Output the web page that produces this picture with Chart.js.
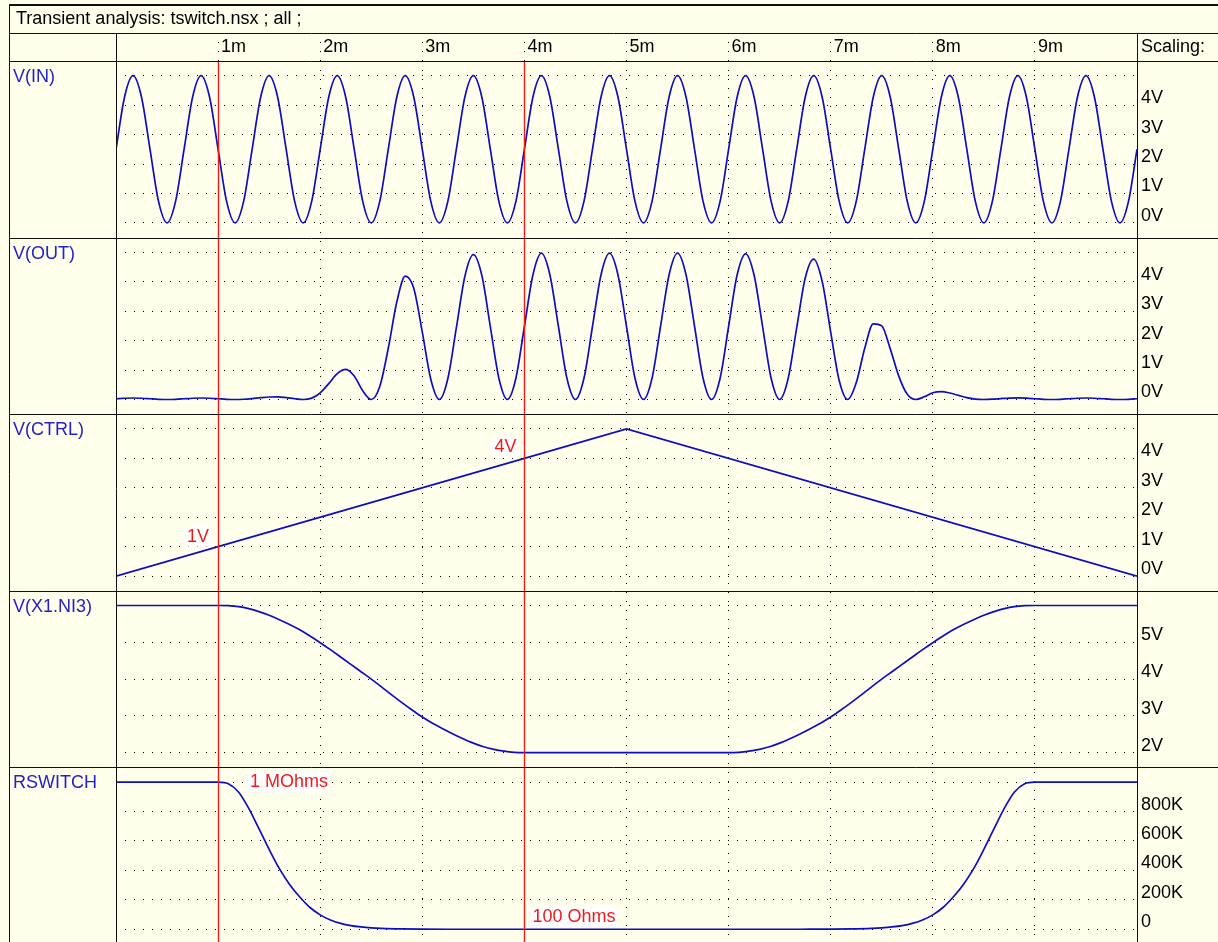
<!DOCTYPE html>
<html>
<head>
<meta charset="utf-8">
<script src="https://cdn.jsdelivr.net/npm/chart.js@4.4.1/dist/chart.umd.min.js"></script>
<style>
  html, body { margin: 0; padding: 0; background: #FFFFEC; overflow: hidden; width: 1218px; height: 942px; }
  #wrap { position: relative; width: 1218px; height: 944px; }
  #plot { position: absolute; left: 0; top: 0; }
  .txt { position: absolute; font-family: "Liberation Sans", Arial, sans-serif; font-size: 18px;
         line-height: 21px; white-space: nowrap; color: #000; }
  .pane { color: #2222CC; }
</style>
</head>
<body>
<div id="wrap">
  <canvas id="plot" width="1218" height="944"></canvas>
  <div class="txt" style="left:16px; top:8px;">Transient analysis: tswitch.nsx ; all ;</div>
  <div class="txt" style="left:1141px; top:36px;">Scaling:</div>
</div>
<script>
// ---- time axis (milliseconds) ----
const timeTickValues = [1, 2, 3, 4, 5, 6, 7, 8, 9];
const timeTickLabels = ['1m', '2m', '3m', '4m', '5m', '6m', '7m', '8m', '9m'];

// ---- sampled waveforms V(IN) and V(OUT) ----
const sampleTimes = [
  0, 0.0833, 0.1667, 0.25, 0.3333, 0.4167, 0.5, 0.5833, 0.6667, 0.75, 0.8333, 0.9167,
  1, 1.0833, 1.1667, 1.25, 1.3333, 1.4167, 1.5, 1.5833, 1.6667, 1.75, 1.8333, 1.9167,
  2, 2.0833, 2.1667, 2.25, 2.3333, 2.4167, 2.5, 2.5833, 2.6667, 2.75, 2.8333, 2.9167,
  3, 3.0833, 3.1667, 3.25, 3.3333, 3.4167, 3.5, 3.5833, 3.6667, 3.75, 3.8333, 3.9167,
  4, 4.0833, 4.1667, 4.25, 4.3333, 4.4167, 4.5, 4.5833, 4.6667, 4.75, 4.8333, 4.9167,
  5, 5.0833, 5.1667, 5.25, 5.3333, 5.4167, 5.5, 5.5833, 5.6667, 5.75, 5.8333, 5.9167,
  6, 6.0833, 6.1667, 6.25, 6.3333, 6.4167, 6.5, 6.5833, 6.6667, 6.75, 6.8333, 6.9167,
  7, 7.0833, 7.1667, 7.25, 7.3333, 7.4167, 7.5, 7.5833, 7.6667, 7.75, 7.8333, 7.9167,
  8, 8.0833, 8.1667, 8.25, 8.3333, 8.4167, 8.5, 8.5833, 8.6667, 8.75, 8.8333, 8.9167,
  9, 9.0833, 9.1667, 9.25, 9.3333, 9.4167, 9.5, 9.5833, 9.6667, 9.75, 9.8333, 9.9167,
  10
];

const vIn = [
  2.5, 4.27, 5, 4.27, 2.5, 0.73, 0, 0.73,
  2.5, 4.27, 5, 4.27, 2.5, 0.73, 0, 0.73,
  2.5, 4.27, 5, 4.27, 2.5, 0.73, 0, 0.73,
  2.5, 4.27, 5, 4.27, 2.5, 0.73, 0, 0.73,
  2.5, 4.27, 5, 4.27, 2.5, 0.73, 0, 0.73,
  2.5, 4.27, 5, 4.27, 2.5, 0.73, 0, 0.73,
  2.5, 4.27, 5, 4.27, 2.5, 0.73, 0, 0.73,
  2.5, 4.27, 5, 4.27, 2.5, 0.73, 0, 0.73,
  2.5, 4.27, 5, 4.27, 2.5, 0.73, 0, 0.73,
  2.5, 4.27, 5, 4.27, 2.5, 0.73, 0, 0.73,
  2.5, 4.27, 5, 4.27, 2.5, 0.73, 0, 0.73,
  2.5, 4.27, 5, 4.27, 2.5, 0.73, 0, 0.73,
  2.5, 4.27, 5, 4.27, 2.5, 0.73, 0, 0.73,
  2.5, 4.27, 5, 4.27, 2.5, 0.73, 0, 0.73,
  2.5, 4.27, 5, 4.27, 2.5, 0.73, 0, 0.73,
  2.5
];

const vOut = [
  0.025, 0.042, 0.05, 0.042, 0.025, 0.007, 0, 0.007,
  0.025, 0.042, 0.05, 0.042, 0.025, 0.007, 0, 0.008,
  0.031, 0.061, 0.084, 0.088, 0.064, 0.024, 0, 0.045,
  0.227, 0.538, 0.88, 1.025, 0.795, 0.294, 0, 0.439,
  1.74, 3.31, 4.19, 3.77, 2.29, 0.685, 0, 0.704,
  2.43, 4.18, 4.92, 4.21, 2.47, 0.722, 0, 0.723,
  2.48, 4.23, 4.97, 4.23, 2.48, 0.72, 0, 0.72,
  2.48, 4.23, 4.97, 4.23, 2.48, 0.72, 0, 0.72,
  2.48, 4.23, 4.97, 4.23, 2.48, 0.72, 0, 0.72,
  2.48, 4.23, 4.95, 4.22, 2.47, 0.72, 0, 0.715,
  2.43, 4.12, 4.77, 4.01, 2.29, 0.645, 0, 0.566,
  1.74, 2.57, 2.5, 1.72, 0.795, 0.175, 0, 0.092,
  0.227, 0.265, 0.219, 0.14, 0.064, 0.015, 0, 0.01,
  0.031, 0.048, 0.052, 0.043, 0.025, 0.007, 0, 0.007,
  0.025, 0.042, 0.05, 0.042, 0.025, 0.007, 0, 0.007,
  0.025
];

// ---- control ramp ----
const ctrlTimes = [0, 1, 4, 5, 10];
const vCtrl = [0, 1, 4, 5, 0];

// ---- internal node of the switch ----
const ni3Times = [0, 1, 1.1, 1.2, 1.3, 1.4, 1.5, 1.6, 1.7, 1.8, 1.9, 2, 2.1, 2.2, 2.3, 2.4, 2.5,
                  2.6, 2.7, 2.8, 2.9, 3, 3.1, 3.2, 3.3, 3.4, 3.5, 3.6, 3.7, 3.8, 3.9, 4,
                  6, 6.1, 6.2, 6.3, 6.4, 6.5, 6.6, 6.7, 6.8, 6.9, 7, 7.1, 7.2, 7.3, 7.4, 7.5,
                  7.6, 7.7, 7.8, 7.9, 8, 8.1, 8.2, 8.3, 8.4, 8.5, 8.6, 8.7, 8.8, 8.9, 9, 10];
const vNi3 = [6, 6, 5.995, 5.97, 5.915, 5.835, 5.735, 5.615, 5.485, 5.34, 5.17, 4.99, 4.8, 4.6, 4.4, 4.2, 4.0,
              3.79, 3.57, 3.36, 3.16, 2.97, 2.8, 2.65, 2.51, 2.38, 2.26, 2.16, 2.09, 2.04, 2.01, 2,
              2, 2.01, 2.04, 2.09, 2.16, 2.26, 2.38, 2.51, 2.65, 2.8, 2.97, 3.16, 3.36, 3.57, 3.79, 4.0,
              4.2, 4.4, 4.6, 4.8, 4.99, 5.17, 5.34, 5.485, 5.615, 5.735, 5.835, 5.915, 5.97, 5.995, 6, 6];

// ---- switch resistance (ohms) ----
const rswTimes = [0, 1, 1.1, 1.2, 1.3, 1.4, 1.5, 1.6, 1.7, 1.8, 1.9, 2, 2.1, 2.2, 2.3, 2.4, 2.5,
                  2.6, 2.8, 3, 3.3, 3.6, 4,
                  6, 6.4, 6.7, 7, 7.2, 7.4, 7.5, 7.6, 7.7, 7.8, 7.9, 8, 8.1, 8.2, 8.3, 8.4, 8.5,
                  8.6, 8.7, 8.8, 8.9, 9, 10];
const rSwitch = [1000000, 1000000, 989000, 933000, 822000, 684000, 543000, 412000, 305000, 219000,
                 148000, 98000, 63000, 40000, 25000, 16000, 10000, 6200, 2300, 930, 320, 145, 100,
                 100, 145, 320, 930, 2300, 6200, 10000, 16000, 25000, 40000, 63000, 98000, 148000,
                 219000, 305000, 412000, 543000, 684000, 822000, 933000, 989000, 1000000, 1000000];

// ---- per-pane scaling ----
const voltTicks = [0, 1, 2, 3, 4, 5];
const voltLabels = ['0V', '1V', '2V', '3V', '4V'];
const ni3Ticks = [2, 3, 4, 5, 6];
const ni3Labels = ['2V', '3V', '4V', '5V'];
const rswTicks = [0, 200000, 400000, 600000, 800000, 1000000];
const rswLabels = ['0', '200K', '400K', '600K', '800K'];

const paneNames = ['V(IN)', 'V(OUT)', 'V(CTRL)', 'V(X1.NI3)', 'RSWITCH'];
const paneIds = ['yIn', 'yOut', 'yCtrl', 'yNi3', 'yRsw'];

// ---- cursors and their readouts ----
const cursorTimes = [1, 4];
const cursorNotes = [
  { axis: 'yCtrl', t: 1, value: 1, text: '1V' },
  { axis: 'yCtrl', t: 4, value: 4, text: '4V' },
  { axis: 'yRsw', t: 1, value: 1000000, text: '1 MOhms' },
  { axis: 'yRsw', t: 4, value: 100, text: '100 Ohms' }
];
const notePlacement = [
  { align: 'right', dx: -9, dy: -11 },
  { align: 'right', dx: -8, dy: -12 },
  { align: 'left', dx: 32, dy: -1 },
  { align: 'left', dx: 8, dy: -13 }
];

const FONT = '"Liberation Sans", Arial, sans-serif';
const FONT_SIZE = 18;
const TRACE = '#0E0EC0';
const GRID = '#000000';
const CURSOR = '#F01A1A';

const toPoints = (xs, ys) => xs.map((x, i) => ({ x, y: ys[i] }));

function paneAxis(min, max, ticks, labels) {
  return {
    type: 'linear', position: 'right', stack: 'panes', stackWeight: 1,
    min, max,
    afterBuildTicks: s => { s.ticks = ticks.map(v => ({ value: v })); },
    afterFit: s => { s.width = 81; s.paddingTop = 0; s.paddingBottom = 0; },
    grid: { color: GRID, lineWidth: 1, drawTicks: false },
    border: { display: false, dash: [1, 8] },
    ticks: {
      autoSkip: false,
      padding: 4, labelOffset: -7, color: '#000',
      font: { family: FONT, size: FONT_SIZE },
      callback: (v, i) => (labels[i] !== undefined ? labels[i] : '')
    }
  };
}

function trace(data, axis, smooth) {
  return {
    data, yAxisID: axis, xAxisID: 'x',
    borderColor: TRACE, borderWidth: 1.7, pointRadius: 0,
    fill: false, tension: 0,
    cubicInterpolationMode: smooth ? 'monotone' : 'default'
  };
}

const framePlugin = {
  id: 'frame',
  afterDatasetsDraw(chart) {
    const { ctx, chartArea: a } = chart;
    const xs = chart.scales.x;
    ctx.save();
    ctx.strokeStyle = CURSOR;
    ctx.lineWidth = 1.4;
    cursorTimes.forEach(t => {
      const px = Math.round(xs.getPixelForValue(t)) + 0.5;
      ctx.beginPath();
      ctx.moveTo(px, a.top);
      ctx.lineTo(px, chart.height);
      ctx.stroke();
    });
    ctx.restore();
  },
  afterDraw(chart) {
    const { ctx, chartArea: a } = chart;
    const W = chart.width, H = chart.height;
    ctx.save();
    ctx.strokeStyle = '#101010';
    ctx.lineWidth = 1;
    const h = (y, x0, x1) => { const yy = Math.round(y) + 0.5; ctx.beginPath(); ctx.moveTo(x0, yy); ctx.lineTo(x1, yy); ctx.stroke(); };
    const v = (x, y0, y1) => { const xx = Math.round(x) + 0.5; ctx.beginPath(); ctx.moveTo(xx, y0); ctx.lineTo(xx, y1); ctx.stroke(); };
    // outer frame and title bar
    ctx.lineWidth = 2;
    ctx.beginPath(); ctx.moveTo(9, 5); ctx.lineTo(W, 5); ctx.stroke();
    ctx.lineWidth = 1;
    v(9, 5, H);
    h(33, 9, W);
    h(a.top, 9, W);
    paneIds.slice(1).forEach(id => h(chart.scales[id].top, 9, W));
    v(a.left, 33, H);
    v(a.right, 33, H);

    // cursor readouts
    ctx.font = FONT_SIZE + 'px ' + FONT;
    ctx.textBaseline = 'middle';
    cursorNotes.forEach((n, i) => {
      const p = notePlacement[i];
      const px = chart.scales.x.getPixelForValue(n.t);
      const py = chart.scales[n.axis].getPixelForValue(n.value);
      const w = ctx.measureText(n.text).width;
      const left = p.align === 'right' ? px + p.dx - w : px + p.dx;
      const cy = py + p.dy;
      ctx.fillStyle = '#FFFFFF';
      ctx.fillRect(left - 2, cy - 10, w + 4, 21);
      ctx.fillStyle = CURSOR;
      ctx.textAlign = 'left';
      ctx.fillText(n.text, left, cy + 1);
    });
    ctx.restore();
  }
};

Chart.defaults.font.family = FONT;

const chart = new Chart(document.getElementById('plot'), {
  type: 'line',
  data: {
    datasets: [
      trace(toPoints(sampleTimes, vIn), 'yIn', true),
      trace(toPoints(sampleTimes, vOut), 'yOut', true),
      trace(toPoints(ctrlTimes, vCtrl), 'yCtrl', false),
      trace(toPoints(ni3Times, vNi3), 'yNi3', true),
      trace(toPoints(rswTimes, rSwitch), 'yRsw', true)
    ]
  },
  options: {
    responsive: false,
    maintainAspectRatio: false,
    animation: false,
    events: [],
    layout: { padding: { left: 116, top: 33, right: 0, bottom: 0 } },
    plugins: { legend: { display: false }, tooltip: { enabled: false }, title: { display: false } },
    scales: {
      x: {
        type: 'linear', position: 'top', min: 0, max: 10,
        afterBuildTicks: s => { s.ticks = timeTickValues.map(v => ({ value: v })); },
        afterFit: s => { s.height = 28; s.paddingLeft = 0; s.paddingRight = 0; },
        grid: { color: GRID, lineWidth: 1, drawTicks: true, tickLength: 28,
                tickColor: GRID, tickWidth: 1, tickBorderDash: [1, 8] },
        border: { display: false, dash: [1, 8] },
        ticks: {
          align: 'start', labelOffset: 3, padding: -25,
          autoSkip: false, maxRotation: 0, minRotation: 0, color: '#000',
          font: { family: FONT, size: FONT_SIZE },
          callback: (v, i) => timeTickLabels[i]
        }
      },
      yIn: paneAxis(-0.5, 5.5, voltTicks, voltLabels),
      yOut: paneAxis(-0.5, 5.5, voltTicks, voltLabels),
      yCtrl: paneAxis(-0.5, 5.5, voltTicks, voltLabels),
      yNi3: paneAxis(1.6, 6.4, ni3Ticks, ni3Labels),
      yRsw: paneAxis(-100000, 1100000, rswTicks, rswLabels)
    }
  },
  plugins: [framePlugin]
});

// pane captions in the left column
const wrap = document.getElementById('wrap');
paneIds.forEach((id, i) => {
  const d = document.createElement('div');
  d.className = 'txt pane';
  d.textContent = paneNames[i];
  d.style.left = '13px';
  d.style.top = (Math.round(chart.scales[id].top) + 5) + 'px';
  wrap.appendChild(d);
});
</script>
</body>
</html>
